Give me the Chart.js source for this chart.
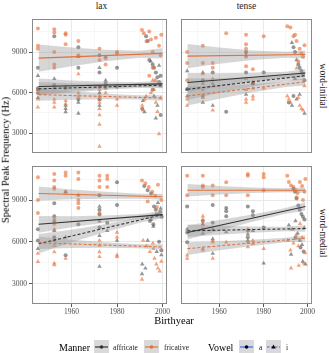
<!DOCTYPE html>
<html>
<head>
<meta charset="utf-8">
<script src="https://cdn.jsdelivr.net/npm/chart.js@4.4.0/dist/chart.umd.min.js"></script>
<style>
  body { margin: 0; background: #fff; }
  #wrap { position: relative; width: 329px; height: 353px; overflow: hidden; font-family: "Liberation Serif", "DejaVu Serif", serif; color: #1a1a1a; }
  canvas { position: absolute; }
  .txt { position: absolute; white-space: nowrap; line-height: 1; }
  .strip { font-size: 9.5px; transform: translate(-50%, -50%); }
  .rstrip { font-size: 9.5px; transform: translate(-50%, -50%) rotate(90deg); }
  .ytitle { font-size: 10.5px; color: #000; transform: translate(-50%, -50%) rotate(-90deg); }
  .xtitle { font-size: 10.5px; color: #000; transform: translate(-50%, -50%); }
  .lg { position: absolute; top: 340px; height: 14px; display: flex; align-items: center; }
  .lgt { font-size: 10px; color: #000; }
  .lgs { font-size: 7.5px; color: #1a1a1a; }
</style>
</head>
<body>
<div id="wrap">
  <canvas id="tl" width="171" height="142" style="left:0px;top:15px"></canvas>
  <canvas id="tr" width="139" height="142" style="left:177px;top:15px"></canvas>
  <canvas id="bl" width="171" height="158" style="left:0px;top:162px"></canvas>
  <canvas id="br" width="139" height="158" style="left:177px;top:162px"></canvas>

  <div class="txt strip" style="left:101.5px;top:7px">lax</div>
  <div class="txt strip" style="left:246.5px;top:7px">tense</div>
  <div class="txt rstrip" style="left:322px;top:86px">word-initial</div>
  <div class="txt rstrip" style="left:322px;top:233px">word-medial</div>
  <div class="txt ytitle" style="left:6px;top:160px">Spectral Peak Frequency (Hz)</div>
  <div class="txt xtitle" style="left:174px;top:321px">Birthyear</div>

  <div class="lg" style="left:59px"><span class="lgt">Manner</span></div>
  <div class="lg" style="left:94px">
    <svg width="15" height="14"><rect width="15" height="14" fill="#d9d9d9"/><line x1="1" y1="7" x2="14" y2="7" stroke="#333" stroke-width="1.2"/><circle cx="7.5" cy="7" r="1.8" fill="#333"/></svg>
  </div>
  <div class="lg" style="left:113px"><span class="lgs">affricate</span></div>
  <div class="lg" style="left:144px">
    <svg width="15" height="14"><rect width="15" height="14" fill="#d9d9d9"/><line x1="1" y1="7" x2="14" y2="7" stroke="#e4703a" stroke-width="1.2"/><circle cx="7.5" cy="7" r="1.8" fill="#e4703a"/></svg>
  </div>
  <div class="lg" style="left:164px"><span class="lgs">fricative</span></div>
  <div class="lg" style="left:208px"><span class="lgt">Vowel</span></div>
  <div class="lg" style="left:239px">
    <svg width="15" height="14"><rect width="15" height="14" fill="#d9d9d9"/><line x1="1" y1="7" x2="14" y2="7" stroke="#3366ff" stroke-width="1.2"/><circle cx="7.5" cy="7" r="1.8" fill="#000"/></svg>
  </div>
  <div class="lg" style="left:259px"><span class="lgs">a</span></div>
  <div class="lg" style="left:266px">
    <svg width="15" height="14"><rect width="15" height="14" fill="#d9d9d9"/><line x1="1" y1="7" x2="14" y2="7" stroke="#3366ff" stroke-width="1.2" stroke-dasharray="2.5 1.5"/><polygon points="7.5,4.6 9.7,8.6 5.3,8.6" fill="#000"/></svg>
  </div>
  <div class="lg" style="left:286px"><span class="lgs">i</span></div>
</div>

<script>
// axis ticks
const xMajor = [1960, 1980, 2000];
const xMinor = [1950, 1970, 1990];
const yMajor = [3000, 6000, 9000];
const yMinor = [4500, 7500, 10500];
const xRange = [1942.6, 2002];
const yRange = [1540, 11440];

// years where the confidence bands were read
const bandYearsLeft = [1945.5, 1960, 1975, 1990, 2000];
const bandYearsRight = [1945.5, 1960, 1975, 1990, 1999];
const fitYearsLeft = [1945.5, 2000];
const fitYearsRight = [1945.5, 1999];

// groups in each panel: fricative a, fricative i, affricate a, affricate i

// ---- lax / word-initial ----
const laxInitFricA = [[1945.2,10745],[1945.2,9465],[1945.2,9233],[1952.4,10675],[1952.4,10442],[1952.4,9000],[1952.4,8070],[1952.4,7837],[1957.4,10395],[1957.4,10280],[1957.4,9581],[1963,9814],[1963,8767],[1972.3,9233],[1972.3,8419],[1975,8535],[1975,8070],[1980,9000],[1980,8884],[1991,10628],[1991.8,10395],[1994.2,10510],[1994.9,9930],[1995.7,9000],[1997.1,10050],[1998.5,9465],[1999.2,8767],[1995.7,7837],[1996.8,6907],[1994.2,7256],[1999.5,10280],[1993,9800]];
const laxInitFricI = [[1945.2,6209],[1945.2,5512],[1945.2,4930],[1952.4,5512],[1952.4,5279],[1952.4,4930],[1957.4,6442],[1957.4,5395],[1957.4,5163],[1963,7372],[1963,5977],[1963,5744],[1972.3,6209],[1972.3,5744],[1972.3,5512],[1972.3,5279],[1972.3,4814],[1972.3,4349],[1972.3,3651],[1972.3,2023],[1975,6558],[1975,5977],[1980,5512],[1980,5046],[1991.1,5046],[1991.4,4700],[1992.1,5500],[1992.8,5745],[1994.9,5977],[1996.3,6209],[1997.1,5279],[1997.8,4600],[1998.5,2953],[1999.2,5600],[1995.7,6900]];
const laxInitAffA = [[1945.2,7837],[1945.2,6325],[1945.2,5977],[1952.4,10163],[1952.4,6558],[1957.4,6325],[1963,9349],[1963,7837],[1963,5512],[1972.3,8767],[1972.3,7488],[1972.3,6442],[1972.3,5512],[1975,6674],[1980,7837],[1980,6442],[1992.8,10163],[1993.5,9814],[1994.2,8419],[1995.7,8070],[1996.3,7837],[1997.1,7488],[1997.8,7140],[1998.5,6790],[1999.2,7256],[1995.7,6209],[1991.1,4800],[1999.2,4350]];
const laxInitAffI = [[1945.2,7256],[1945.2,6209],[1945.2,5628],[1952.4,7023],[1952.4,6325],[1957.4,5046],[1957.4,4814],[1957.4,4581],[1963,8651],[1963,5279],[1963,4465],[1972.3,7837],[1972.3,5977],[1972.3,5046],[1975,8651],[1975,6907],[1975,6325],[1991.4,5400],[1992.1,4581],[1994.9,8300],[1996.3,5744],[1997.8,5046],[1997.1,4120],[1999.2,6500],[1998.5,8000]];
const laxInitFit = [[8550, 8900], [5850, 5600], [6450, 6650], [6280, 6550]];
const laxInitLower = [[7550,7940,8320,8580,8520], [5400,5480,5520,5500,5400], [5850,6100,6310,6430,6400], [5780,6000,6210,6340,6330]];
const laxInitUpper = [[9550,9340,9160,9100,9280], [6300,6080,5920,5800,5800], [7050,6900,6810,6790,6900], [6780,6700,6650,6660,6770]];

// ---- tense / word-initial ----
const tenseInitFricA = [[1945.4,9000],[1945.4,8186],[1945.4,6907],[1952.5,9465],[1952.5,8186],[1957,8186],[1957,7837],[1963.1,10395],[1972.1,10280],[1972.1,9581],[1972.1,9233],[1972.1,8651],[1972.1,7953],[1975.2,7721],[1980.1,10163],[1990.8,10907],[1992.2,10814],[1993.6,10163],[1994.3,10280],[1995,9814],[1996.4,9233],[1997.2,8884],[1997.9,8651],[1995.8,8302],[1998.6,9500]];
const tenseInitFricI = [[1945.4,5512],[1945.4,5046],[1952.5,7372],[1952.5,6209],[1952.5,5628],[1957,7023],[1957,4698],[1972.1,7023],[1972.1,6209],[1972.1,5512],[1972.1,5279],[1975.2,6790],[1975.2,6325],[1975.2,5744],[1975.2,5512],[1980.1,6325],[1990.8,5744],[1991.5,5512],[1992.2,5279],[1995.8,5628],[1996.4,5046],[1997.2,4814],[1997.9,4700],[1998.6,6500],[1995,7800]];
const tenseInitAffA = [[1945.4,6256],[1952.5,6907],[1952.5,5744],[1957,7488],[1963.1,4581],[1972.1,9000],[1972.1,7488],[1975.2,6674],[1980.1,7488],[1993.6,9349],[1994.3,9000],[1995.8,8070],[1996.4,7837],[1997.2,7605],[1997.9,7372],[1998.6,6907],[1991.5,5279],[1993.6,5744]];
const tenseInitAffI = [[1945.4,7605],[1945.4,6256],[1945.4,5744],[1952.5,7488],[1952.5,6674],[1952.5,5279],[1957,6674],[1957,5046],[1972.1,8767],[1972.1,5860],[1975.2,6674],[1992.9,9698],[1995,8419],[1994.3,7023],[1992.9,5046],[1995,5512],[1996.4,5860],[1998.6,4465]];
const tenseInitFit = [[8700, 8820], [5750, 6800], [6750, 7450], [6250, 7250]];
const tenseInitLower = [[7800,8130,8420,8580,8520], [5050,5550,6030,6420,6520], [6050,6440,6820,7110,7150], [5450,5970,6450,6850,6950]];
const tenseInitUpper = [[9600,9330,9120,9020,9120], [6450,6510,6630,6820,7080], [7450,7440,7460,7550,7750], [7050,7070,7150,7310,7550]];

// ---- lax / word-medial ----
const laxMedFricA = [[1945.2,10628],[1945.2,9000],[1945.2,8070],[1952.4,10860],[1952.4,10395],[1952.4,9930],[1952.4,9814],[1952.4,7605],[1957.4,10977],[1957.4,10744],[1957.4,9581],[1963,10977],[1963,10512],[1963,9000],[1963,8767],[1963,8419],[1972.3,10744],[1972.3,10395],[1972.3,9930],[1972.3,8070],[1975.7,10744],[1975.7,10512],[1975.7,9930],[1991,10395],[1992.5,10200],[1994,9930],[1995.5,9600],[1996.8,9300],[1998,10100],[1999.5,9000],[1997.5,8500],[1993.5,8900]];
const laxMedFricI = [[1945.2,5163],[1945.2,4581],[1952.4,7256],[1952.4,6907],[1952.4,5744],[1952.4,5279],[1952.4,4465],[1952.4,4349],[1957.4,4814],[1972.3,6093],[1972.3,5744],[1972.3,5279],[1972.3,4930],[1980,6674],[1980,6325],[1980,5046],[1980,4930],[1991.5,6100],[1993,5700],[1994.5,5300],[1995.8,5900],[1996.5,4814],[1997.3,4400],[1998,4100],[1998.8,3900],[1999.5,4600],[1991,3302],[1996,5500]];
const laxMedAffA = [[1945.2,6907],[1945.2,6093],[1952.4,8767],[1952.4,7837],[1952.4,6325],[1957.4,5046],[1963,7256],[1972.3,9349],[1972.3,8302],[1972.3,7953],[1972.3,7023],[1975.7,7372],[1980,10279],[1980,8651],[1992,10000],[1993.5,9700],[1995,9465],[1996.3,8535],[1997.1,8302],[1998,7953],[1999,8150],[1999.7,7800],[1994.5,7488],[1996,7256],[1998.5,6000],[1999.5,5400]];
const laxMedAffI = [[1945.2,5512],[1952.4,7488],[1952.4,6790],[1952.4,6093],[1957.4,9581],[1957.4,6325],[1963,9349],[1972.3,8535],[1972.3,7488],[1972.3,6442],[1972.3,4232],[1975.7,6790],[1980,6093],[1991.1,4400],[1992.5,4100],[1993.5,6100],[1995,7600],[1996,7100],[1997.1,7953],[1998,8800],[1999.2,8400],[1997.5,5300],[1999.5,5050],[1991,3700]];
const laxMedFit = [[9465, 9230], [5930, 5630], [7256, 7953], [5860, 7953]];
const laxMedLower = [[8965,9050,9090,9090,9010], [5480,5550,5570,5535,5430], [6656,7041,7383,7645,7703], [5160,5967,6713,7369,7693]];
const laxMedUpper = [[9965,9750,9590,9450,9450], [6380,6150,5967,5835,5830], [7856,7841,7883,8005,8203], [6560,6867,7273,7769,8213]];

// ---- tense / word-medial ----
const tenseMedFricA = [[1945.4,10744],[1945.4,9349],[1952.5,10744],[1952.5,10047],[1952.5,9930],[1957,10047],[1957,9349],[1963.1,10279],[1963.1,9349],[1972.9,10860],[1972.9,10744],[1972.9,9349],[1980.1,10860],[1980.1,10628],[1980.1,9698],[1990.8,10744],[1991.5,10300],[1992.5,10050],[1993.6,9930],[1994.5,9698],[1995.5,9500],[1996.5,10300],[1997.5,10000],[1998.6,9600],[1999,10500],[1995,9200],[1997.9,9000]];
const tenseMedFricI = [[1945.4,5046],[1945.4,4814],[1952.5,7837],[1952.5,7605],[1952.5,7256],[1952.5,5512],[1952.5,5395],[1957,6093],[1957,5977],[1957,4814],[1963.1,5977],[1972.9,6907],[1972.9,5977],[1972.9,5628],[1975.2,6093],[1975.2,5860],[1980.1,5512],[1991,6100],[1992.2,5400],[1993.6,5900],[1994.8,6500],[1995.8,5700],[1996.6,7300],[1997.5,6300],[1998.2,4465],[1998.9,5200],[1992.5,4117],[1996,4300]];
const tenseMedAffA = [[1945.4,8535],[1945.4,6674],[1945.4,5977],[1952.5,7488],[1952.5,6907],[1957,8651],[1957,7372],[1963.1,8419],[1963.1,8186],[1963.1,7837],[1972.9,8535],[1972.9,6325],[1975.2,8186],[1975.2,7900],[1980.1,7023],[1993.6,9800],[1994.3,9600],[1995,9100],[1995.8,8600],[1996.4,8300],[1997.2,8000],[1997.9,7800],[1998.6,7600],[1994.5,6300],[1996.8,5600],[1998.2,5300]];
const tenseMedAffI = [[1945.4,6907],[1952.5,7256],[1952.5,6600],[1957,6907],[1957,6209],[1957,5163],[1963.1,6700],[1972.9,6790],[1972.9,6558],[1972.9,6093],[1975.2,6790],[1980.1,4465],[1991.5,7200],[1993,6900],[1994.5,7500],[1995.5,6600],[1996.5,6100],[1997.5,5800],[1998.5,7000],[1992.5,5100],[1997.8,4600],[1999,4400]];
const tenseMedFit = [[9700, 9700], [5512, 6256], [6674, 8535], [6790, 6953]];
const tenseMedLower = [[9250,9400,9500,9550,9500], [5062,5394,5702,5971,6036], [6174,6798,7440,8021,8235], [6340,6514,6660,6766,6723]];
const tenseMedUpper = [[10150,10000,9900,9850,9900], [5962,6034,6142,6291,6476], [7174,7558,7960,8421,8835], [7240,7154,7100,7086,7183]];

// styles
const fricColor = '#e4703a';
const affColor = '#333333';
const fricPoint = 'rgba(232, 108, 50, 0.62)';
const affPoint = 'rgba(45, 45, 45, 0.5)';
const bandFill = 'rgba(153, 153, 153, 0.4)';
const tickFont = { family: 'Liberation Serif', size: 7.5 };

const toXY = pairs => pairs.map(p => ({ x: p[0], y: p[1] }));

const panelBox = {
    id: 'panelBox',
    afterDraw(chart) {
        const a = chart.chartArea;
        const ctx = chart.ctx;
        ctx.save();
        ctx.strokeStyle = '#8a8a8a';
        ctx.lineWidth = 1;
        ctx.strokeRect(a.left + 0.5, a.top + 0.5, a.right - a.left - 1, a.bottom - a.top - 1);
        ctx.restore();
    }
};

function makePanel(id, points, fit, lower, upper, bandYears, fitYears, showX, showY) {
    const datasets = [];
    const lineCols = [fricColor, fricColor, affColor, affColor];
    const dashes = [[], [3, 2], [], [3, 2]];
    const pointCols = [fricPoint, fricPoint, affPoint, affPoint];
    const shapes = ['circle', 'triangle', 'circle', 'triangle'];

    for (let g = 0; g < 4; g++) {
        datasets.push({
            data: bandYears.map((yr, i) => ({ x: yr, y: upper[g][i] })),
            borderWidth: 0, pointRadius: 0, fill: '+1',
            backgroundColor: bandFill, order: 2
        });
        datasets.push({
            data: bandYears.map((yr, i) => ({ x: yr, y: lower[g][i] })),
            borderWidth: 0, pointRadius: 0, fill: false, order: 2
        });
    }
    for (let g = 0; g < 4; g++) {
        datasets.push({
            data: fitYears.map((yr, i) => ({ x: yr, y: fit[g][i] })),
            borderColor: lineCols[g], borderWidth: 1.1, borderDash: dashes[g],
            pointRadius: 0, fill: false, order: 1
        });
    }
    for (let g = 0; g < 4; g++) {
        datasets.push({
            data: toXY(points[g]),
            showLine: false,
            pointStyle: shapes[g],
            pointRadius: shapes[g] === 'triangle' ? 2.6 : 2,
            pointBackgroundColor: pointCols[g],
            pointBorderWidth: 0,
            order: 3
        });
    }

    return new Chart(document.getElementById(id), {
        type: 'line',
        data: { datasets },
        plugins: [panelBox],
        options: {
            responsive: false,
            devicePixelRatio: 1,
            animation: false,
            layout: { padding: 0 },
            plugins: { legend: { display: false }, tooltip: { enabled: false } },
            scales: {
                x: {
                    type: 'linear', min: xRange[0], max: xRange[1],
                    afterBuildTicks: s => { s.ticks = xMinor.concat(xMajor).sort().map(v => ({ value: v })); },
                    afterFit: s => { s.height = showX ? 16 : 0; s.paddingLeft = 0; s.paddingRight = 0; },
                    border: { display: false },
                    grid: {
                        color: c => xMajor.includes(c.tick && c.tick.value) ? '#e6e6e6' : '#f1f1f1',
                        lineWidth: c => xMajor.includes(c.tick && c.tick.value) ? 0.9 : 0.6,
                        drawTicks: showX, tickLength: 3,
                        tickColor: c => xMajor.includes(c.tick && c.tick.value) ? '#444' : 'rgba(0,0,0,0)'
                    },
                    ticks: {
                        display: showX, autoSkip: false, maxRotation: 0, padding: 1,
                        font: tickFont, color: '#4d4d4d',
                        callback: v => xMajor.includes(v) ? String(v) : ''
                    }
                },
                y: {
                    type: 'linear', min: yRange[0], max: yRange[1],
                    afterBuildTicks: s => { s.ticks = yMajor.concat(yMinor).sort((a, b) => a - b).map(v => ({ value: v })); },
                    afterFit: s => { s.width = showY ? 32 : 0; s.paddingTop = 0; s.paddingBottom = 0; },
                    border: { display: false },
                    grid: {
                        color: c => yMajor.includes(c.tick && c.tick.value) ? '#e6e6e6' : '#f1f1f1',
                        lineWidth: c => yMajor.includes(c.tick && c.tick.value) ? 0.9 : 0.6,
                        drawTicks: showY, tickLength: 3,
                        tickColor: c => yMajor.includes(c.tick && c.tick.value) ? '#444' : 'rgba(0,0,0,0)'
                    },
                    ticks: {
                        display: showY, autoSkip: false, padding: 2,
                        font: tickFont, color: '#4d4d4d',
                        callback: v => yMajor.includes(v) ? String(v) : ''
                    }
                }
            }
        }
    });
}

makePanel('tl', [laxInitFricA, laxInitFricI, laxInitAffA, laxInitAffI], laxInitFit, laxInitLower, laxInitUpper, bandYearsLeft, fitYearsLeft, false, true);
makePanel('tr', [tenseInitFricA, tenseInitFricI, tenseInitAffA, tenseInitAffI], tenseInitFit, tenseInitLower, tenseInitUpper, bandYearsRight, fitYearsRight, false, false);
makePanel('bl', [laxMedFricA, laxMedFricI, laxMedAffA, laxMedAffI], laxMedFit, laxMedLower, laxMedUpper, bandYearsLeft, fitYearsLeft, true, true);
makePanel('br', [tenseMedFricA, tenseMedFricI, tenseMedAffA, tenseMedAffI], tenseMedFit, tenseMedLower, tenseMedUpper, bandYearsRight, fitYearsRight, true, false);
</script>
</body>
</html>
